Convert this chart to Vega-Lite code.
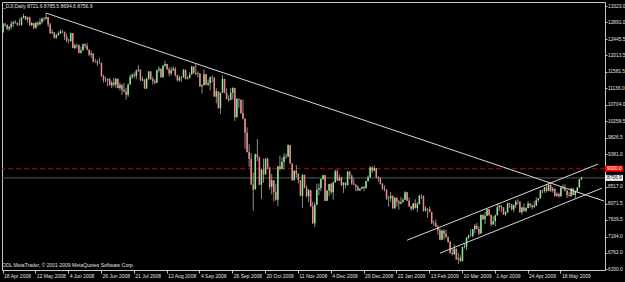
{
"$schema":"https://vega.github.io/schema/vega-lite/v6.json",
"width":603,"height":268,
"autosize":{"type":"none"},
"padding":{"left":2,"top":2,"right":20,"bottom":12},
"background":"#000000",
"config":{"view":{"stroke":"#c8c8c8","strokeWidth":1,"fill":"#000000"},"font":"Liberation Sans","axisY":{"tickCount":30,"labelOverlap":false}},
"title":{"text":"_DJI,Daily  8721.6 8785.5 8694.6 8756.9","anchor":"start","frame":"group","fontSize":5,"fontWeight":"normal","color":"#e0e0e0","font":"Liberation Sans","offset":-7,"dx":1},
"data":{"values":[{}]},
"datasets":{
"px":[
{"d":"2008-04-18","o":12620,"h":12880,"l":12620,"c":12849},
{"d":"2008-04-21","o":12849,"h":12870,"l":12770,"c":12825},
{"d":"2008-04-22","o":12825,"h":12830,"l":12680,"c":12720},
{"d":"2008-04-23","o":12720,"h":12800,"l":12660,"c":12763},
{"d":"2008-04-24","o":12763,"h":12930,"l":12700,"c":12849},
{"d":"2008-04-25","o":12849,"h":12920,"l":12760,"c":12892},
{"d":"2008-04-28","o":12892,"h":12950,"l":12850,"c":12872},
{"d":"2008-04-29","o":12872,"h":12890,"l":12790,"c":12831},
{"d":"2008-04-30","o":12831,"h":12990,"l":12800,"c":12820},
{"d":"2008-05-01","o":12820,"h":13030,"l":12800,"c":13010},
{"d":"2008-05-02","o":13010,"h":13110,"l":12990,"c":13058},
{"d":"2008-05-05","o":13058,"h":13060,"l":12950,"c":12970},
{"d":"2008-05-06","o":12970,"h":13040,"l":12880,"c":13021},
{"d":"2008-05-07","o":13021,"h":13040,"l":12800,"c":12814},
{"d":"2008-05-08","o":12814,"h":12900,"l":12790,"c":12867},
{"d":"2008-05-09","o":12867,"h":12870,"l":12700,"c":12746},
{"d":"2008-05-12","o":12746,"h":12900,"l":12720,"c":12876},
{"d":"2008-05-13","o":12876,"h":12920,"l":12780,"c":12832},
{"d":"2008-05-14","o":12832,"h":13000,"l":12820,"c":12898},
{"d":"2008-05-15","o":12898,"h":13010,"l":12850,"c":12993},
{"d":"2008-05-16","o":12993,"h":13030,"l":12920,"c":12987},
{"d":"2008-05-19","o":12987,"h":13136,"l":12960,"c":13028},
{"d":"2008-05-20","o":13028,"h":13030,"l":12770,"c":12829},
{"d":"2008-05-21","o":12829,"h":12880,"l":12580,"c":12601},
{"d":"2008-05-22","o":12601,"h":12700,"l":12590,"c":12626},
{"d":"2008-05-23","o":12626,"h":12630,"l":12450,"c":12480},
{"d":"2008-05-27","o":12480,"h":12580,"l":12460,"c":12548},
{"d":"2008-05-28","o":12548,"h":12650,"l":12530,"c":12594},
{"d":"2008-05-29","o":12594,"h":12700,"l":12580,"c":12646},
{"d":"2008-05-30","o":12646,"h":12680,"l":12600,"c":12638},
{"d":"2008-06-02","o":12638,"h":12640,"l":12420,"c":12504},
{"d":"2008-06-03","o":12504,"h":12590,"l":12360,"c":12403},
{"d":"2008-06-04","o":12403,"h":12460,"l":12330,"c":12390},
{"d":"2008-06-05","o":12390,"h":12620,"l":12380,"c":12604},
{"d":"2008-06-06","o":12604,"h":12605,"l":12200,"c":12210},
{"d":"2008-06-09","o":12210,"h":12320,"l":12180,"c":12280},
{"d":"2008-06-10","o":12280,"h":12330,"l":12190,"c":12290},
{"d":"2008-06-11","o":12290,"h":12300,"l":12060,"c":12084},
{"d":"2008-06-12","o":12084,"h":12240,"l":12060,"c":12142},
{"d":"2008-06-13","o":12142,"h":12320,"l":12140,"c":12307},
{"d":"2008-06-16","o":12307,"h":12330,"l":12200,"c":12269},
{"d":"2008-06-17","o":12269,"h":12340,"l":12150,"c":12160},
{"d":"2008-06-18","o":12160,"h":12170,"l":11990,"c":12029},
{"d":"2008-06-19","o":12029,"h":12140,"l":11950,"c":12063},
{"d":"2008-06-20","o":12063,"h":12070,"l":11830,"c":11843},
{"d":"2008-06-23","o":11843,"h":11920,"l":11810,"c":11842},
{"d":"2008-06-24","o":11842,"h":11900,"l":11730,"c":11807},
{"d":"2008-06-25","o":11807,"h":11950,"l":11790,"c":11812},
{"d":"2008-06-26","o":11812,"h":11820,"l":11440,"c":11453},
{"d":"2008-06-27","o":11453,"h":11500,"l":11290,"c":11347},
{"d":"2008-06-30","o":11347,"h":11450,"l":11300,"c":11350},
{"d":"2008-07-01","o":11350,"h":11400,"l":11180,"c":11382},
{"d":"2008-07-02","o":11382,"h":11420,"l":11210,"c":11216},
{"d":"2008-07-03","o":11216,"h":11340,"l":11140,"c":11289},
{"d":"2008-07-07","o":11289,"h":11420,"l":11180,"c":11232},
{"d":"2008-07-08","o":11232,"h":11420,"l":11140,"c":11384},
{"d":"2008-07-09","o":11384,"h":11400,"l":11130,"c":11147},
{"d":"2008-07-10","o":11147,"h":11290,"l":11080,"c":11229},
{"d":"2008-07-11","o":11229,"h":11240,"l":10960,"c":11101},
{"d":"2008-07-14","o":11101,"h":11280,"l":11030,"c":11055},
{"d":"2008-07-15","o":11055,"h":11150,"l":10830,"c":10963},
{"d":"2008-07-16","o":10963,"h":11260,"l":10910,"c":11239},
{"d":"2008-07-17","o":11239,"h":11500,"l":11230,"c":11447},
{"d":"2008-07-18","o":11447,"h":11530,"l":11380,"c":11497},
{"d":"2008-07-21","o":11497,"h":11560,"l":11410,"c":11467},
{"d":"2008-07-22","o":11467,"h":11640,"l":11380,"c":11603},
{"d":"2008-07-23","o":11603,"h":11750,"l":11570,"c":11632},
{"d":"2008-07-24","o":11632,"h":11640,"l":11330,"c":11349},
{"d":"2008-07-25","o":11349,"h":11450,"l":11320,"c":11371},
{"d":"2008-07-28","o":11371,"h":11380,"l":11120,"c":11131},
{"d":"2008-07-29","o":11131,"h":11420,"l":11120,"c":11398},
{"d":"2008-07-30","o":11398,"h":11600,"l":11350,"c":11584},
{"d":"2008-07-31","o":11584,"h":11590,"l":11360,"c":11378},
{"d":"2008-08-01","o":11378,"h":11440,"l":11240,"c":11326},
{"d":"2008-08-04","o":11326,"h":11380,"l":11250,"c":11284},
{"d":"2008-08-05","o":11284,"h":11630,"l":11280,"c":11616},
{"d":"2008-08-06","o":11616,"h":11720,"l":11560,"c":11656},
{"d":"2008-08-07","o":11656,"h":11660,"l":11420,"c":11431},
{"d":"2008-08-08","o":11431,"h":11760,"l":11420,"c":11734},
{"d":"2008-08-11","o":11734,"h":11870,"l":11700,"c":11782},
{"d":"2008-08-12","o":11782,"h":11790,"l":11620,"c":11642},
{"d":"2008-08-13","o":11642,"h":11700,"l":11450,"c":11533},
{"d":"2008-08-14","o":11533,"h":11700,"l":11480,"c":11616},
{"d":"2008-08-15","o":11616,"h":11720,"l":11590,"c":11660},
{"d":"2008-08-18","o":11660,"h":11700,"l":11450,"c":11479},
{"d":"2008-08-19","o":11479,"h":11500,"l":11320,"c":11349},
{"d":"2008-08-20","o":11349,"h":11480,"l":11310,"c":11417},
{"d":"2008-08-21","o":11417,"h":11460,"l":11310,"c":11430},
{"d":"2008-08-22","o":11430,"h":11650,"l":11420,"c":11628},
{"d":"2008-08-25","o":11628,"h":11630,"l":11370,"c":11386},
{"d":"2008-08-26","o":11386,"h":11460,"l":11370,"c":11413},
{"d":"2008-08-27","o":11413,"h":11560,"l":11400,"c":11503},
{"d":"2008-08-28","o":11503,"h":11730,"l":11500,"c":11715},
{"d":"2008-08-29","o":11715,"h":11720,"l":11530,"c":11544},
{"d":"2008-09-02","o":11544,"h":11790,"l":11480,"c":11517},
{"d":"2008-09-03","o":11517,"h":11590,"l":11430,"c":11533},
{"d":"2008-09-04","o":11533,"h":11540,"l":11180,"c":11188},
{"d":"2008-09-05","o":11188,"h":11250,"l":11000,"c":11221},
{"d":"2008-09-08","o":11221,"h":11640,"l":11220,"c":11511},
{"d":"2008-09-09","o":11511,"h":11520,"l":11220,"c":11231},
{"d":"2008-09-10","o":11231,"h":11370,"l":11200,"c":11269},
{"d":"2008-09-11","o":11269,"h":11450,"l":11080,"c":11434},
{"d":"2008-09-12","o":11434,"h":11480,"l":11290,"c":11422},
{"d":"2008-09-15","o":11422,"h":11420,"l":10910,"c":10918},
{"d":"2008-09-16","o":10918,"h":11140,"l":10740,"c":11059},
{"d":"2008-09-17","o":11059,"h":11060,"l":10600,"c":10610},
{"d":"2008-09-18","o":10610,"h":11030,"l":10460,"c":11020},
{"d":"2008-09-19","o":11020,"h":11480,"l":11020,"c":11388},
{"d":"2008-09-22","o":11388,"h":11390,"l":11000,"c":11016},
{"d":"2008-09-23","o":11016,"h":11140,"l":10840,"c":10854},
{"d":"2008-09-24","o":10854,"h":10950,"l":10780,"c":10825},
{"d":"2008-09-25","o":10825,"h":11150,"l":10820,"c":11022},
{"d":"2008-09-26","o":11022,"h":11170,"l":10840,"c":11143},
{"d":"2008-09-29","o":11143,"h":11150,"l":10270,"c":10365},
{"d":"2008-09-30","o":10365,"h":10880,"l":10360,"c":10851},
{"d":"2008-10-01","o":10851,"h":10860,"l":10610,"c":10831},
{"d":"2008-10-02","o":10831,"h":10840,"l":10450,"c":10483},
{"d":"2008-10-03","o":10483,"h":10840,"l":10310,"c":10325},
{"d":"2008-10-06","o":10325,"h":10330,"l":9530,"c":9956},
{"d":"2008-10-07","o":9956,"h":10100,"l":9430,"c":9447},
{"d":"2008-10-08","o":9447,"h":9650,"l":9050,"c":9258},
{"d":"2008-10-09","o":9258,"h":9410,"l":8570,"c":8579},
{"d":"2008-10-10","o":8579,"h":8900,"l":7880,"c":8451},
{"d":"2008-10-13","o":8451,"h":9400,"l":8450,"c":9388},
{"d":"2008-10-14","o":9388,"h":9790,"l":9200,"c":9311},
{"d":"2008-10-15","o":9311,"h":9320,"l":8560,"c":8578},
{"d":"2008-10-16","o":8578,"h":9000,"l":8200,"c":8979},
{"d":"2008-10-17","o":8979,"h":9270,"l":8630,"c":8852},
{"d":"2008-10-20","o":8852,"h":9280,"l":8840,"c":9265},
{"d":"2008-10-21","o":9265,"h":9300,"l":8980,"c":9034},
{"d":"2008-10-22","o":9034,"h":9040,"l":8450,"c":8519},
{"d":"2008-10-23","o":8519,"h":8860,"l":8320,"c":8691},
{"d":"2008-10-24","o":8691,"h":8700,"l":8130,"c":8379},
{"d":"2008-10-27","o":8379,"h":8600,"l":8150,"c":8176},
{"d":"2008-10-28","o":8176,"h":9070,"l":8000,"c":9065},
{"d":"2008-10-29","o":9065,"h":9350,"l":8950,"c":8991},
{"d":"2008-10-30","o":8991,"h":9300,"l":8990,"c":9181},
{"d":"2008-10-31","o":9181,"h":9410,"l":8980,"c":9325},
{"d":"2008-11-03","o":9325,"h":9400,"l":9260,"c":9320},
{"d":"2008-11-04","o":9320,"h":9650,"l":9320,"c":9625},
{"d":"2008-11-05","o":9625,"h":9630,"l":9130,"c":9139},
{"d":"2008-11-06","o":9139,"h":9140,"l":8680,"c":8696},
{"d":"2008-11-07","o":8696,"h":8960,"l":8690,"c":8944},
{"d":"2008-11-10","o":8944,"h":9100,"l":8770,"c":8871},
{"d":"2008-11-11","o":8871,"h":8880,"l":8610,"c":8694},
{"d":"2008-11-12","o":8694,"h":8700,"l":8270,"c":8283},
{"d":"2008-11-13","o":8283,"h":8860,"l":7960,"c":8835},
{"d":"2008-11-14","o":8835,"h":8840,"l":8480,"c":8497},
{"d":"2008-11-17","o":8497,"h":8560,"l":8240,"c":8274},
{"d":"2008-11-18","o":8274,"h":8460,"l":8110,"c":8425},
{"d":"2008-11-19","o":8425,"h":8440,"l":7990,"c":7997},
{"d":"2008-11-20","o":7997,"h":8120,"l":7530,"c":7552},
{"d":"2008-11-21","o":7552,"h":8110,"l":7450,"c":8046},
{"d":"2008-11-24","o":8046,"h":8600,"l":8040,"c":8443},
{"d":"2008-11-25","o":8443,"h":8610,"l":8300,"c":8479},
{"d":"2008-11-26","o":8479,"h":8740,"l":8400,"c":8727},
{"d":"2008-11-28","o":8727,"h":8840,"l":8700,"c":8829},
{"d":"2008-12-01","o":8829,"h":8830,"l":8140,"c":8149},
{"d":"2008-12-02","o":8149,"h":8430,"l":8140,"c":8419},
{"d":"2008-12-03","o":8419,"h":8600,"l":8270,"c":8592},
{"d":"2008-12-04","o":8592,"h":8630,"l":8320,"c":8376},
{"d":"2008-12-05","o":8376,"h":8660,"l":8180,"c":8635},
{"d":"2008-12-08","o":8635,"h":8980,"l":8630,"c":8934},
{"d":"2008-12-09","o":8934,"h":8980,"l":8670,"c":8691},
{"d":"2008-12-10","o":8691,"h":8850,"l":8680,"c":8761},
{"d":"2008-12-11","o":8761,"h":8790,"l":8540,"c":8565},
{"d":"2008-12-12","o":8565,"h":8640,"l":8360,"c":8630},
{"d":"2008-12-15","o":8630,"h":8640,"l":8480,"c":8565},
{"d":"2008-12-16","o":8565,"h":8940,"l":8550,"c":8924},
{"d":"2008-12-17","o":8924,"h":8930,"l":8720,"c":8824},
{"d":"2008-12-18","o":8824,"h":8840,"l":8570,"c":8605},
{"d":"2008-12-19","o":8605,"h":8750,"l":8560,"c":8579},
{"d":"2008-12-22","o":8579,"h":8580,"l":8400,"c":8520},
{"d":"2008-12-23","o":8520,"h":8560,"l":8410,"c":8419},
{"d":"2008-12-24","o":8419,"h":8480,"l":8410,"c":8468},
{"d":"2008-12-26","o":8468,"h":8530,"l":8460,"c":8516},
{"d":"2008-12-29","o":8516,"h":8550,"l":8400,"c":8484},
{"d":"2008-12-30","o":8484,"h":8680,"l":8480,"c":8668},
{"d":"2008-12-31","o":8668,"h":8820,"l":8660,"c":8776},
{"d":"2009-01-02","o":8776,"h":9070,"l":8750,"c":9035},
{"d":"2009-01-05","o":9035,"h":9060,"l":8890,"c":8953},
{"d":"2009-01-06","o":8953,"h":9090,"l":8930,"c":9015},
{"d":"2009-01-07","o":9015,"h":9020,"l":8740,"c":8770},
{"d":"2009-01-08","o":8770,"h":8800,"l":8650,"c":8742},
{"d":"2009-01-09","o":8742,"h":8770,"l":8580,"c":8599},
{"d":"2009-01-12","o":8599,"h":8620,"l":8430,"c":8474},
{"d":"2009-01-13","o":8474,"h":8560,"l":8400,"c":8449},
{"d":"2009-01-14","o":8449,"h":8450,"l":8170,"c":8200},
{"d":"2009-01-15","o":8200,"h":8280,"l":7990,"c":8212},
{"d":"2009-01-16","o":8212,"h":8380,"l":8120,"c":8281},
{"d":"2009-01-20","o":8281,"h":8290,"l":7940,"c":7949},
{"d":"2009-01-21","o":7949,"h":8240,"l":7940,"c":8228},
{"d":"2009-01-22","o":8228,"h":8230,"l":8000,"c":8123},
{"d":"2009-01-23","o":8123,"h":8170,"l":7910,"c":8078},
{"d":"2009-01-26","o":8078,"h":8250,"l":8050,"c":8116},
{"d":"2009-01-27","o":8116,"h":8220,"l":8100,"c":8175},
{"d":"2009-01-28","o":8175,"h":8400,"l":8170,"c":8375},
{"d":"2009-01-29","o":8375,"h":8380,"l":8140,"c":8149},
{"d":"2009-01-30","o":8149,"h":8240,"l":7990,"c":8001},
{"d":"2009-02-02","o":8001,"h":8010,"l":7880,"c":7937},
{"d":"2009-02-03","o":7937,"h":8090,"l":7900,"c":8078},
{"d":"2009-02-04","o":8078,"h":8190,"l":7940,"c":7957},
{"d":"2009-02-05","o":7957,"h":8110,"l":7850,"c":8063},
{"d":"2009-02-06","o":8063,"h":8310,"l":8050,"c":8281},
{"d":"2009-02-09","o":8281,"h":8320,"l":8200,"c":8271},
{"d":"2009-02-10","o":8271,"h":8290,"l":7860,"c":7889},
{"d":"2009-02-11","o":7889,"h":8010,"l":7860,"c":7940},
{"d":"2009-02-12","o":7940,"h":7950,"l":7700,"c":7933},
{"d":"2009-02-13","o":7933,"h":7990,"l":7840,"c":7850},
{"d":"2009-02-17","o":7850,"h":7860,"l":7530,"c":7553},
{"d":"2009-02-18","o":7553,"h":7620,"l":7480,"c":7556},
{"d":"2009-02-19","o":7556,"h":7650,"l":7450,"c":7466},
{"d":"2009-02-20","o":7466,"h":7500,"l":7250,"c":7366},
{"d":"2009-02-23","o":7366,"h":7420,"l":7100,"c":7115},
{"d":"2009-02-24","o":7115,"h":7380,"l":7110,"c":7351},
{"d":"2009-02-25","o":7351,"h":7390,"l":7120,"c":7271},
{"d":"2009-02-26","o":7271,"h":7380,"l":7170,"c":7182},
{"d":"2009-02-27","o":7182,"h":7200,"l":7030,"c":7063},
{"d":"2009-03-02","o":7063,"h":7070,"l":6750,"c":6763},
{"d":"2009-03-03","o":6763,"h":6890,"l":6700,"c":6726},
{"d":"2009-03-04","o":6726,"h":6990,"l":6720,"c":6876},
{"d":"2009-03-05","o":6876,"h":6880,"l":6580,"c":6594},
{"d":"2009-03-06","o":6594,"h":6760,"l":6470,"c":6627},
{"d":"2009-03-09","o":6627,"h":6700,"l":6520,"c":6547},
{"d":"2009-03-10","o":6547,"h":6930,"l":6540,"c":6926},
{"d":"2009-03-11","o":6926,"h":7010,"l":6880,"c":6930},
{"d":"2009-03-12","o":6930,"h":7180,"l":6840,"c":7170},
{"d":"2009-03-13","o":7170,"h":7250,"l":7130,"c":7224},
{"d":"2009-03-16","o":7224,"h":7390,"l":7200,"c":7217},
{"d":"2009-03-17","o":7217,"h":7400,"l":7180,"c":7396},
{"d":"2009-03-18","o":7396,"h":7530,"l":7280,"c":7487},
{"d":"2009-03-19","o":7487,"h":7560,"l":7380,"c":7401},
{"d":"2009-03-20","o":7401,"h":7470,"l":7230,"c":7278},
{"d":"2009-03-23","o":7278,"h":7780,"l":7270,"c":7776},
{"d":"2009-03-24","o":7776,"h":7780,"l":7640,"c":7660},
{"d":"2009-03-25","o":7660,"h":7850,"l":7530,"c":7750},
{"d":"2009-03-26","o":7750,"h":7930,"l":7740,"c":7925},
{"d":"2009-03-27","o":7925,"h":7930,"l":7740,"c":7776},
{"d":"2009-03-30","o":7776,"h":7780,"l":7470,"c":7522},
{"d":"2009-03-31","o":7522,"h":7740,"l":7520,"c":7609},
{"d":"2009-04-01","o":7609,"h":7780,"l":7470,"c":7762},
{"d":"2009-04-02","o":7762,"h":8080,"l":7760,"c":7978},
{"d":"2009-04-03","o":7978,"h":8040,"l":7880,"c":8018},
{"d":"2009-04-06","o":8018,"h":8020,"l":7850,"c":7976},
{"d":"2009-04-07","o":7976,"h":7980,"l":7770,"c":7790},
{"d":"2009-04-08","o":7790,"h":7880,"l":7740,"c":7837},
{"d":"2009-04-09","o":7837,"h":8100,"l":7830,"c":8083},
{"d":"2009-04-13","o":8083,"h":8090,"l":7960,"c":8058},
{"d":"2009-04-14","o":8058,"h":8060,"l":7890,"c":7920},
{"d":"2009-04-15","o":7920,"h":8050,"l":7840,"c":8030},
{"d":"2009-04-16","o":8030,"h":8170,"l":7960,"c":8125},
{"d":"2009-04-17","o":8125,"h":8190,"l":8050,"c":8131},
{"d":"2009-04-20","o":8131,"h":8130,"l":7830,"c":7842},
{"d":"2009-04-21","o":7842,"h":7990,"l":7780,"c":7970},
{"d":"2009-04-22","o":7970,"h":8080,"l":7860,"c":7887},
{"d":"2009-04-23","o":7887,"h":7980,"l":7840,"c":7957},
{"d":"2009-04-24","o":7957,"h":8140,"l":7950,"c":8076},
{"d":"2009-04-27","o":8076,"h":8080,"l":7960,"c":8025},
{"d":"2009-04-28","o":8025,"h":8060,"l":7920,"c":7976},
{"d":"2009-04-29","o":7976,"h":8140,"l":7970,"c":8017},
{"d":"2009-04-30","o":8017,"h":8240,"l":8010,"c":8168},
{"d":"2009-05-01","o":8168,"h":8220,"l":8120,"c":8212},
{"d":"2009-05-04","o":8212,"h":8430,"l":8210,"c":8427},
{"d":"2009-05-05","o":8427,"h":8440,"l":8340,"c":8411},
{"d":"2009-05-06","o":8411,"h":8520,"l":8360,"c":8512},
{"d":"2009-05-07","o":8512,"h":8590,"l":8370,"c":8410},
{"d":"2009-05-08","o":8410,"h":8620,"l":8400,"c":8575},
{"d":"2009-05-11","o":8575,"h":8580,"l":8380,"c":8419},
{"d":"2009-05-12","o":8419,"h":8520,"l":8370,"c":8469},
{"d":"2009-05-13","o":8469,"h":8470,"l":8260,"c":8285},
{"d":"2009-05-14","o":8285,"h":8370,"l":8260,"c":8331},
{"d":"2009-05-15","o":8331,"h":8370,"l":8230,"c":8269},
{"d":"2009-05-18","o":8269,"h":8510,"l":8260,"c":8504},
{"d":"2009-05-19","o":8504,"h":8580,"l":8450,"c":8475},
{"d":"2009-05-20","o":8475,"h":8590,"l":8400,"c":8422},
{"d":"2009-05-21","o":8422,"h":8430,"l":8220,"c":8295},
{"d":"2009-05-22","o":8295,"h":8380,"l":8260,"c":8277},
{"d":"2009-05-26","o":8277,"h":8490,"l":8250,"c":8473},
{"d":"2009-05-27","o":8473,"h":8480,"l":8300,"c":8300},
{"d":"2009-05-28","o":8300,"h":8420,"l":8220,"c":8404},
{"d":"2009-05-29","o":8404,"h":8510,"l":8360,"c":8500},
{"d":"2009-06-01","o":8500,"h":8730,"l":8500,"c":8721},
{"d":"2009-06-02","o":8721.6,"h":8785.5,"l":8694.6,"c":8756.9}
],
"tl":[
{"n":"a","d":"2008-05-19","p":13136},{"n":"a","d":"2009-06-17","p":8142},
{"n":"b","d":"2009-01-29","p":7101},{"n":"b","d":"2009-06-12","p":9122},
{"n":"c","d":"2009-02-23","p":6756},{"n":"c","d":"2009-06-16","p":8484}
]
},
"layer":[
{"mark":{"type":"rule","color":"#c00000","strokeDash":[5,3],"strokeWidth":1},
 "encoding":{"y":{"datum":9000,"type":"quantitative","scale":{"domain":[6310,13430],"nice":false,"zero":false},
   "axis":{"orient":"right","values":[13323,12891,12445.5,12013.5,11581.5,11136,10704,10258.5,9826.5,9381,8517,8071.5,7639.5,7194,6762,6330],"tickCount":30,"format":".1f","labelFontSize":4.8,"labelColor":"#e0e0e0","labelFont":"Liberation Sans","tickColor":"#c8c8c8","tickSize":2,"domain":false,"grid":false,"title":null,"labelPadding":0.5,"labelOverlap":false,"labelBound":false,"labelFlush":false}}}},
{"mark":{"type":"rule","color":"#5a5a5a","strokeWidth":1},"encoding":{"y":{"datum":8756.9,"type":"quantitative"}}},
{"data":{"name":"px"},"mark":{"type":"rule","color":"#b0b0b0","strokeWidth":0.8},
 "encoding":{
  "x":{"field":"d","type":"ordinal","sort":"ascending",
   "scale":{"type":"band","paddingInner":0,"paddingOuter":0,"domain":{"unionWith":["2009-06-03","2009-06-04","2009-06-05","2009-06-08","2009-06-09","2009-06-10","2009-06-11","2009-06-12","2009-06-15","2009-06-16","2009-06-17"]}},
   "axis":{"values":["2008-04-18","2008-05-12","2008-06-04","2008-06-26","2008-07-21","2008-08-12","2008-09-04","2008-09-26","2008-10-20","2008-11-11","2008-12-04","2008-12-29","2009-01-22","2009-02-13","2009-03-10","2009-04-01","2009-04-24","2009-05-18"],
    "labelExpr":"utcFormat(toDate(datum.value), '%-d %b %Y')","labelAlign":"left","labelAngle":0,"labelFontSize":5,"labelColor":"#e0e0e0","labelFont":"Liberation Sans","tickColor":"#c8c8c8","tickSize":3,"domain":false,"grid":false,"title":null,"labelPadding":0,"labelOffset":1,"labelBaseline":"top","labelOverlap":false,"labelFlush":false}},
  "y":{"field":"l","type":"quantitative"},
  "y2":{"field":"h"}}},
{"data":{"name":"px"},"mark":{"type":"bar","size":1.5},
 "encoding":{
  "x":{"field":"d","type":"ordinal","sort":"ascending"},
  "y":{"field":"o","type":"quantitative"},
  "y2":{"field":"c"},
  "color":{"condition":{"test":"datum.c >= datum.o","value":"#8ee88e"},"value":"#f08a8a"}}},
{"data":{"name":"tl"},"mark":{"type":"line","color":"#d8d8d8","strokeWidth":1},
 "encoding":{
  "x":{"field":"d","type":"ordinal","sort":"ascending"},
  "y":{"field":"p","type":"quantitative"},
  "detail":{"field":"n"}}},
{"mark":{"type":"text","align":"left","baseline":"alphabetic","fontSize":5,"color":"#e0e0e0","dx":-1},
 "encoding":{"x":{"datum":"2008-04-18","type":"ordinal"},"y":{"datum":6400,"type":"quantitative"},"text":{"value":"ODL MetaTrader, © 2001-2009 MetaQuotes Software Corp."}}},
{"mark":{"type":"rect","color":"#ff0000","x2Offset":18,"yOffset":-3,"y2Offset":3},
 "encoding":{"x":{"value":"width"},"x2":{"value":"width"},"y":{"datum":9000,"type":"quantitative"},"y2":{"datum":9000}}},
{"mark":{"type":"text","align":"left","baseline":"middle","fontSize":4.8,"color":"#ffffff","dx":2},
 "encoding":{"x":{"value":"width"},"y":{"datum":9000,"type":"quantitative"},"text":{"value":"9000.0"}}},
{"mark":{"type":"rect","color":"#f0f0f0","x2Offset":18,"yOffset":-3,"y2Offset":3},
 "encoding":{"x":{"value":"width"},"x2":{"value":"width"},"y":{"datum":8756.9,"type":"quantitative"},"y2":{"datum":8756.9}}},
{"mark":{"type":"text","align":"left","baseline":"middle","fontSize":4.8,"color":"#000000","dx":2},
 "encoding":{"x":{"value":"width"},"y":{"datum":8756.9,"type":"quantitative"},"text":{"value":"8756.9"}}}
]
}
